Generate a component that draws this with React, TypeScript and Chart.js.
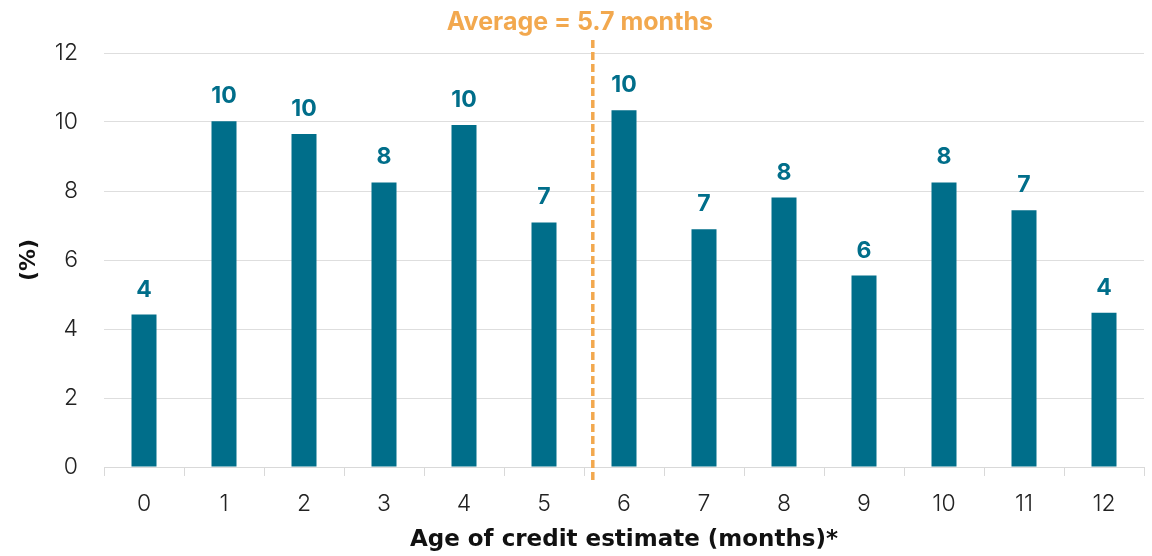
import React, { useEffect, useRef } from "react";
import { Chart, registerables } from "chart.js";

Chart.register(...registerables);

const categories = ["0", "1", "2", "3", "4", "5", "6", "7", "8", "9", "10", "11", "12"];
const shares = [4.42, 10.02, 9.65, 8.25, 9.91, 7.09, 10.34, 6.89, 7.81, 5.55, 8.25, 7.44, 4.47];
const yTicks = [0, 2, 4, 6, 8, 10, 12];
const averagePosition = 5.61;
const averageLabel = "Average = 5.7 months";
const xTitle = "Age of credit estimate (months)*";
const yTitle = "(%)";

const BAR = "#006E8A";
const ORANGE = "#F2A84E";
const FONT = "Inter, 'Noto Sans', sans-serif";
const WIDE = "'DejaVu Sans', Inter, sans-serif";

const overlayPlugin = {
  id: "overlay",
  afterDatasetsDraw(chart: any) {
    const { ctx, chartArea, scales } = chart;
    const meta = chart.getDatasetMeta(0);
    ctx.save();
    ctx.fillStyle = BAR;
    ctx.font = `700 23px ${FONT}`;
    ctx.textAlign = "center";
    ctx.textBaseline = "alphabetic";
    meta.data.forEach((bar: any, i: number) => {
      ctx.fillText(String(Math.round(shares[i])), bar.x, bar.y - 18);
    });
    const x = scales.x.getPixelForValue(averagePosition);
    ctx.strokeStyle = ORANGE;
    ctx.lineWidth = 3.5;
    ctx.setLineDash([8, 4]);
    ctx.beginPath();
    ctx.moveTo(x, chartArea.top - 13);
    ctx.lineTo(x, chartArea.bottom + 13);
    ctx.stroke();
    ctx.setLineDash([]);
    ctx.fillStyle = ORANGE;
    ctx.font = `700 25px ${FONT}`;
    ctx.textBaseline = "middle";
    ctx.fillText(averageLabel, x - 13, chartArea.top - 31);
    ctx.restore();
  },
};

export default function App() {
  const ref = useRef<HTMLCanvasElement>(null);
  useEffect(() => {
    document.body.style.margin = "0";
    const chart = new Chart(ref.current!, {
      type: "bar",
      data: {
        labels: categories,
        datasets: [
          {
            data: shares,
            backgroundColor: BAR,
            barPercentage: 0.3125,
            categoryPercentage: 1,
          },
        ],
      },
      options: {
        animation: false,
        responsive: false,
        maintainAspectRatio: false,
        layout: { padding: { top: 53, right: 8, bottom: 2, left: 0 } },
        plugins: { legend: { display: false }, tooltip: { enabled: false } },
        scales: {
          x: {
            offset: true,
            afterFit: (scale: any) => {
              scale.height = 87;
            },
            grid: {
              offset: true,
              drawOnChartArea: false,
              drawTicks: true,
              tickLength: 9,
              color: "#d9d9d9",
            },
            border: { color: "#d9d9d9" },
            ticks: {
              padding: 14,
              color: "#222",
              font: { family: FONT, size: 23, weight: 300, lineHeight: 1.2 },
            },
            title: {
              display: true,
              text: xTitle,
              color: "#111",
              padding: { top: 0, bottom: 0 },
              font: { family: WIDE, size: 23, weight: 700, lineHeight: 1.2 },
            },
          },
          y: {
            min: 0,
            max: 12,
            afterBuildTicks: (scale: any) => {
              scale.ticks = yTicks.map((v) => ({ value: v }));
            },
            afterFit: (scale: any) => {
              scale.width = 104;
            },
            grid: { color: "#dedede", drawTicks: false },
            border: { display: false },
            ticks: {
              padding: 26,
              color: "#222",
              font: { family: FONT, size: 23, weight: 300 },
            },
            title: {
              display: true,
              text: yTitle,
              color: "#111",
              padding: { top: 16, bottom: 0 },
              font: { family: WIDE, size: 22, weight: 700, lineHeight: 1.2 },
            },
          },
        },
      },
      plugins: [overlayPlugin],
    });
    return () => chart.destroy();
  }, []);
  return (
    <div style={{ width: 1152, height: 556, position: "relative" }}>
      <canvas ref={ref} width={1152} height={556} style={{ display: "block" }} />
    </div>
  );
}
